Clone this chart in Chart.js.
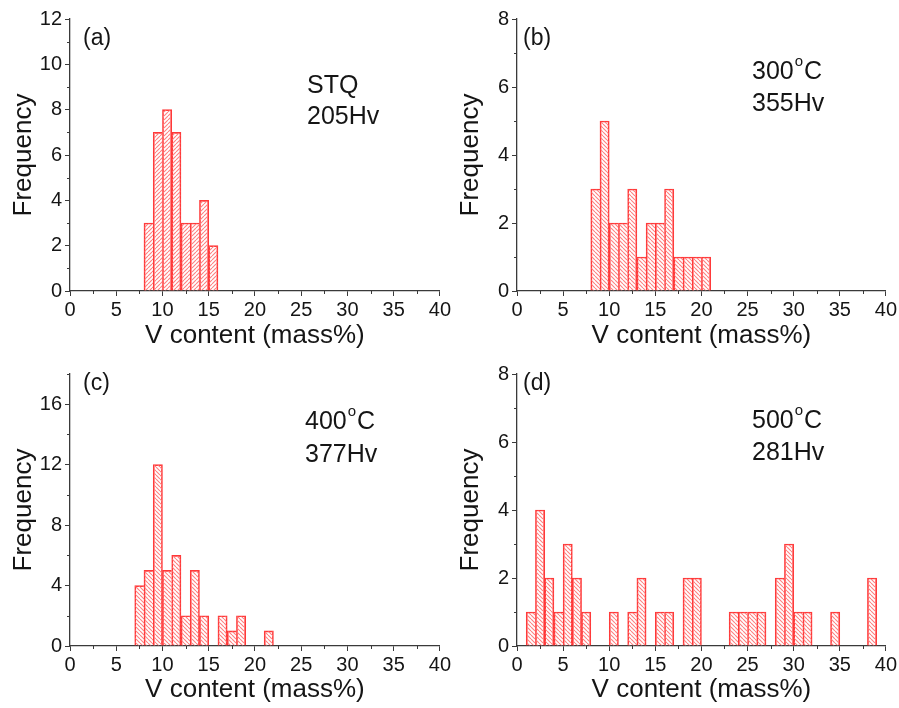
<!DOCTYPE html>
<html>
<head>
<meta charset="utf-8">
<title>V content histograms</title>
<script src="https://cdn.jsdelivr.net/npm/chart.js@4.4.1/dist/chart.umd.min.js"></script>
<style>
  body { margin: 0; background: #fff; }
  #wrap { position: relative; width: 899px; height: 708px; overflow: hidden; }
  canvas { position: absolute; }
</style>
</head>
<body>
<div id="wrap">
  <canvas id="panelA" width="453" height="354" style="left:0;top:0"></canvas>
  <canvas id="panelB" width="452" height="354" style="left:447px;top:0"></canvas>
  <canvas id="panelC" width="453" height="353" style="left:0;top:355px"></canvas>
  <canvas id="panelD" width="452" height="353" style="left:447px;top:355px"></canvas>
</div>
<script>
// histogram bins are 1 mass% wide, counts start at the given bin edge
const binWidth = 1;
const xTicks = [0, 5, 10, 15, 20, 25, 30, 35, 40];

const startA = 8;
const countsA = [3, 7, 8, 7, 3, 3, 4, 2];
const startB = 8;
const countsB = [3, 5, 2, 2, 3, 1, 2, 2, 3, 1, 1, 1, 1];
const startC = 7;
const countsC = [4, 5, 12, 5, 6, 2, 5, 2, 0, 2, 1, 2, 0, 0, 1];
const startD = 1;
const countsD = [1, 4, 2, 1, 3, 2, 1, 0, 0, 1, 0, 1, 2, 0, 1, 1, 0, 2, 2, 0,
                 0, 0, 1, 1, 1, 1, 0, 2, 3, 1, 1, 0, 0, 1, 0, 0, 0, 2];

const tags = ['(a)', '(b)', '(c)', '(d)'];
const states = ['STQ', '300', '400', '500'];
const hardness = ['205Hv', '355Hv', '377Hv', '281Hv'];

const family = '"Liberation Sans", Arial, Helvetica, sans-serif';
const axisColor = '#3a3a3a';
const textColor = '#151515';
const barRed = '#ff3838';
const hatchRed = '#ff8080';

Chart.defaults.font.family = family;
Chart.defaults.color = textColor;

// diagonal hatch fill, '/' or '\'
function hatch(dir) {
  const size = 4;
  const c = document.createElement('canvas');
  c.width = size; c.height = size;
  const g = c.getContext('2d');
  g.strokeStyle = hatchRed;
  g.lineWidth = 1.1;
  g.beginPath();
  for (let k = -size; k <= size; k += size) {
    if (dir === '/') { g.moveTo(k, size); g.lineTo(k + size, 0); }
    else { g.moveTo(k, 0); g.lineTo(k + size, size); }
  }
  g.stroke();
  return g.createPattern(c, 'repeat');
}

// short unlabeled ticks between the major ones
const minorTicks = {
  id: 'minorTicks',
  afterDraw(chart, args, o) {
    const { ctx, chartArea, scales: { x, y } } = chart;
    ctx.save();
    ctx.strokeStyle = axisColor;
    ctx.lineWidth = 1;
    ctx.beginPath();
    for (let v = o.xMinor; v < x.max; v += o.xMajor) {
      const px = Math.round(x.getPixelForValue(v)) + 0.5;
      ctx.moveTo(px, chartArea.bottom);
      ctx.lineTo(px, chartArea.bottom + 3);
    }
    for (let v = o.yMinor; v <= y.max; v += o.yMajor) {
      const py = Math.round(y.getPixelForValue(v)) + 0.5;
      ctx.moveTo(chartArea.left, py);
      ctx.lineTo(chartArea.left - 3, py);
    }
    ctx.stroke();
    ctx.restore();
  }
};

// panel letter and sample state
const notes = {
  id: 'notes',
  afterDraw(chart, args, o) {
    const ctx = chart.ctx;
    ctx.save();
    ctx.fillStyle = textColor;
    ctx.textAlign = 'left';
    ctx.textBaseline = 'alphabetic';
    ctx.font = '23px ' + family;
    ctx.fillText(o.tag, o.tagX, o.tagY);
    ctx.font = '25px ' + family;
    let x = o.noteX;
    ctx.fillText(o.line1, x, o.line1Y);
    if (o.degree) {
      x += ctx.measureText(o.line1).width + 1;
      ctx.font = '15px ' + family;
      ctx.fillText('o', x, o.line1Y - 13);
      x += ctx.measureText('o').width + 1;
      ctx.font = '25px ' + family;
      ctx.fillText('C', x, o.line1Y);
    }
    ctx.fillText(o.line2, o.noteX, o.line2Y);
    ctx.restore();
  }
};

function makePanel(id, start, counts, yMax, yStep, dir, note) {
  const canvas = document.getElementById(id);
  const H = canvas.height;
  const points = counts.map((c, i) => ({ x: start + (i + 0.5) * binWidth, y: c > 0 ? c : null }));
  return new Chart(canvas, {
    type: 'bar',
    data: {
      datasets: [{
        data: points,
        backgroundColor: hatch(dir),
        borderColor: barRed,
        borderWidth: (ctx) => {
          const i = ctx.dataIndex;
          const next = counts[i + 1] || 0;
          return { top: 1, left: 1, bottom: 0, right: next < counts[i] ? 1 : 0 };
        },
        borderSkipped: 'start',
        barPercentage: 1,
        categoryPercentage: 1
      }]
    },
    options: {
      responsive: false,
      animation: false,
      events: [],
      layout: { padding: { left: 0, right: 7, top: 19, bottom: 0 } },
      plugins: {
        legend: { display: false },
        tooltip: { enabled: false },
        minorTicks: { xMajor: 5, xMinor: 2.5, yMajor: yStep, yMinor: yStep / 2 },
        notes: note
      },
      scales: {
        x: {
          type: 'linear',
          min: 0,
          max: 40,
          offset: false,
          afterBuildTicks: (s) => { s.ticks = xTicks.map(v => ({ value: v })); },
          ticks: { font: { size: 20 }, color: textColor, padding: 2, maxRotation: 0 },
          grid: { offset: false, drawOnChartArea: false, tickLength: 5, tickColor: axisColor, tickWidth: 1 },
          border: { color: axisColor, width: 1.3 },
          title: { display: true, text: 'V content (mass%)', font: { size: 26 }, color: textColor, padding: { top: 0, bottom: 3 } },
          afterFit: (s) => { s.height = H - 291; }
        },
        y: {
          min: 0,
          max: yMax,
          ticks: { stepSize: yStep, includeBounds: false, font: { size: 20 }, color: textColor, padding: 3 },
          grid: { drawOnChartArea: false, tickLength: 5, tickColor: axisColor, tickWidth: 1 },
          border: { color: axisColor, width: 1.3 },
          title: { display: true, text: 'Frequency', font: { size: 26 }, color: textColor, padding: { top: 8, bottom: 0 } },
          afterFit: (s) => { s.width = 70; }
        }
      }
    },
    plugins: [minorTicks, notes]
  });
}

makePanel('panelA', startA, countsA, 12, 2, '/',
  { tag: tags[0], tagX: 83, tagY: 45, line1: states[0], line1Y: 93, line2: hardness[0], line2Y: 124, noteX: 307, degree: false });
makePanel('panelB', startB, countsB, 8, 2, '\\',
  { tag: tags[1], tagX: 76, tagY: 45, line1: states[1], line1Y: 79, line2: hardness[1], line2Y: 111, noteX: 305, degree: true });
makePanel('panelC', startC, countsC, 18, 4, '\\',
  { tag: tags[2], tagX: 83, tagY: 35, line1: states[2], line1Y: 74, line2: hardness[2], line2Y: 107, noteX: 305, degree: true });
makePanel('panelD', startD, countsD, 8, 2, '\\',
  { tag: tags[3], tagX: 76, tagY: 35, line1: states[3], line1Y: 73, line2: hardness[3], line2Y: 105, noteX: 305, degree: true });
</script>
</body>
</html>
